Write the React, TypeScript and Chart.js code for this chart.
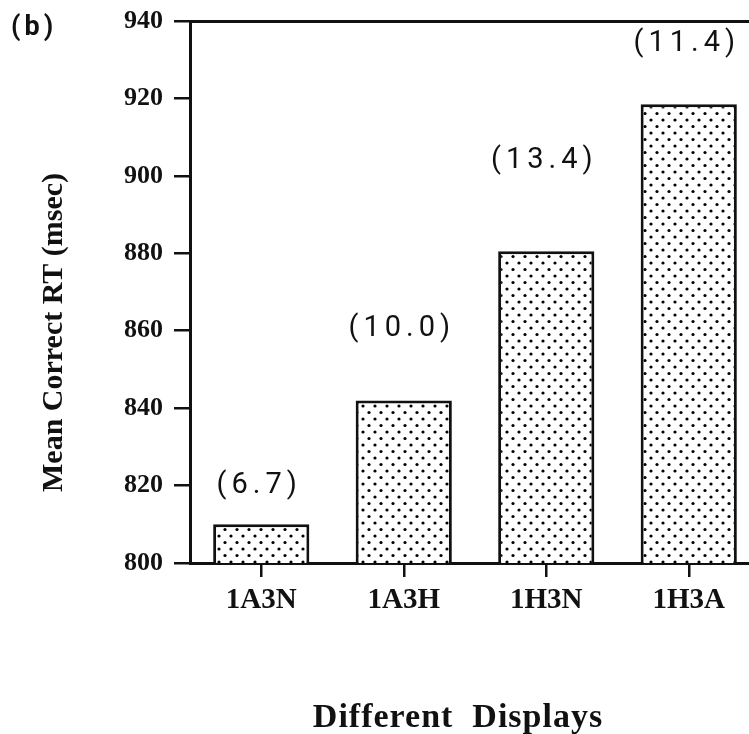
import React, { useEffect, useRef } from "react";
import { Chart, registerables } from "chart.js";

Chart.register(...registerables);

// ---- data ----
const categories = ["1A3N", "1A3H", "1H3N", "1H3A"];
const meanRT = [810, 842, 880.5, 918.5];
const seLabels = ["(6.7)", "(10.0)", "(13.4)", "(11.4)"];
const seLabelAt = [820, 860.5, 904, 934];
const yMin = 800;
const yMax = 940;
const yStep = 20;
const panelLabel = "(b)";
const xTitle = "Different  Displays";
const yTitle = "Mean Correct RT (msec)";

const SERIF = '"Liberation Serif", "Times New Roman", serif';
const SANS = 'Roboto, "Liberation Sans", Arial, sans-serif';

function makeDots(): CanvasPattern | string {
  const c = document.createElement("canvas");
  c.width = 12;
  c.height = 13;
  const g = c.getContext("2d");
  if (!g) return "#ccc";
  g.fillStyle = "#ffffff";
  g.fillRect(0, 0, 12, 13);
  g.fillStyle = "#000000";
  const dots = [
    [3, 3],
    [9, 9.5],
  ];
  for (const [x, y] of dots) {
    g.beginPath();
    g.arc(x, y, 1.6, 0, Math.PI * 2);
    g.fill();
  }
  return g.createPattern(c, "repeat") || "#ccc";
}

const textPlugin = {
  id: "paperText",
  afterDraw(chart: any) {
    const ctx = chart.ctx as CanvasRenderingContext2D;
    const yScale = chart.scales.y;
    const meta = chart.getDatasetMeta(0);

    // SE labels above bars
    ctx.save();
    ctx.font = `29px ${SANS}`;
    (ctx as any).letterSpacing = "5px";
    ctx.fillStyle = "#111";
    ctx.textAlign = "center";
    ctx.textBaseline = "middle";
    meta.data.forEach((bar: any, i: number) => {
      const y = yScale.getPixelForValue(seLabelAt[i]);
      ctx.fillText(seLabels[i], bar.x - 2, y);
    });
    ctx.restore();

    // panel label
    ctx.save();
    ctx.font = `bold 27px ${SANS}`;
    (ctx as any).letterSpacing = "4px";
    ctx.fillStyle = "#111";
    ctx.textAlign = "left";
    ctx.textBaseline = "alphabetic";
    ctx.fillText(panelLabel, 11, 35);
    ctx.restore();

    // x title
    ctx.save();
    ctx.font = `bold 34px ${SERIF}`;
    (ctx as any).letterSpacing = "1px";
    ctx.fillStyle = "#111";
    ctx.textAlign = "center";
    ctx.textBaseline = "alphabetic";
    ctx.fillText(xTitle, 458, 727);
    ctx.restore();

    // y title
    ctx.save();
    ctx.translate(62, 492);
    ctx.rotate(-Math.PI / 2);
    ctx.font = `bold 30px ${SERIF}`;
    ctx.fillStyle = "#111";
    ctx.textAlign = "left";
    ctx.textBaseline = "alphabetic";
    ctx.fillText(yTitle, 0, 0);
    ctx.restore();
  },
};

export default function App() {
  const ref = useRef<HTMLCanvasElement | null>(null);

  useEffect(() => {
    if (!ref.current) return;
    const chart = new Chart(ref.current, {
      type: "bar",
      data: {
        labels: categories,
        datasets: [
          {
            data: meanRT,
            backgroundColor: makeDots() as any,
            borderColor: "#111",
            borderWidth: 3,
            borderSkipped: false,
            barPercentage: 0.675,
            categoryPercentage: 1,
          },
        ],
      },
      options: {
        animation: false,
        responsive: true,
        maintainAspectRatio: false,
        layout: { padding: { left: 0, right: 2, top: 0, bottom: 0 } },
        plugins: {
          legend: { display: false },
          tooltip: { enabled: false },
          title: { display: false },
        },
        scales: {
          x: {
            type: "category",
            position: "bottom",
            offset: true,
            grid: {
              display: true,
              drawOnChartArea: false,
              drawTicks: true,
              tickLength: 14,
              offset: false,
              color: "#111",
              lineWidth: 2.5,
            },
            border: { display: true, color: "#111", width: 3 },
            ticks: {
              color: "#111",
              font: { family: SERIF, size: 29, weight: "bold" },
              padding: 6,
              maxRotation: 0,
              autoSkip: false,
            },
            afterFit(scale: any) {
              scale.height = 171;
              scale.paddingLeft = 0;
              scale.paddingRight = 0;
            },
          },
          x2: {
            type: "category",
            position: "top",
            grid: { display: false },
            ticks: { display: false },
            border: { display: true, color: "#111", width: 3 },
            afterFit(scale: any) {
              scale.height = 21;
            },
          },
          y: {
            type: "linear",
            position: "left",
            min: yMin,
            max: yMax,
            grid: {
              display: true,
              drawOnChartArea: false,
              drawTicks: true,
              tickLength: 16,
              color: "#111",
              lineWidth: 2.5,
            },
            border: { display: true, color: "#111", width: 3 },
            ticks: {
              stepSize: yStep,
              color: "#111",
              font: { family: SERIF, size: 26, weight: "bold" },
              padding: 11,
              callback: (v: any) => String(v),
            },
            afterFit(scale: any) {
              scale.width = 190;
              scale.paddingTop = 0;
              scale.paddingBottom = 0;
            },
          },
        },
      } as any,
      plugins: [textPlugin],
    });
    return () => chart.destroy();
  }, []);

  return (
    <div
      style={{
        position: "fixed",
        left: 0,
        top: 0,
        width: 749,
        height: 734,
        overflow: "hidden",
        background: "#fff",
      }}
    >
      <div style={{ position: "relative", width: 762, height: 734 }}>
        <canvas ref={ref} />
      </div>
    </div>
  );
}
